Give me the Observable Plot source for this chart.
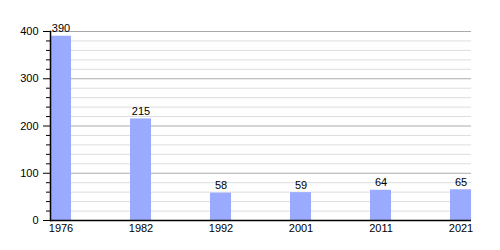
<!DOCTYPE html>
<html>
<head>
<meta charset="utf-8">
<script src="https://cdn.jsdelivr.net/npm/d3@7"></script>
<script src="https://cdn.jsdelivr.net/npm/@observablehq/plot@0.6"></script>
<style>
  html, body { margin: 0; padding: 0; background: #fff; }
  #chart svg { display: block; }
</style>
</head>
<body>
<div id="chart"></div>
<script>
const years = ["1976", "1982", "1992", "2001", "2011", "2021"];
const population = [390, 215, 58, 59, 64, 65];
const majorTicks = [0, 100, 200, 300, 400];
const minorTicks = d3.range(0, 401, 20).filter(v => v % 100 !== 0);

const data = years.map((year, i) => ({year, value: population[i]}));

const chart = Plot.plot({
  width: 500,
  height: 250,
  marginLeft: 50,
  marginRight: 29,
  marginTop: 31,
  marginBottom: 30,
  style: {fontFamily: "'Liberation Sans', Arial, sans-serif", fontSize: "11px", color: "#000", background: "#fff"},
  x: {type: "band", domain: years, paddingInner: 0.7375, paddingOuter: 0, align: 0, label: null},
  y: {domain: [0, 400], label: null},
  marks: [
    Plot.ruleY(minorTicks, {stroke: "#dddddd", strokeWidth: 1}),
    Plot.ruleY(majorTicks.filter(v => v > 0), {stroke: "#aaaaaa", strokeWidth: 1}),
    Plot.barY(data, {x: "year", y: "value", fill: "#99aaff"}),
    Plot.text(data, {x: "year", y: "value", text: d => String(d.value), lineAnchor: "bottom", dy: -4, fill: "#000"}),
    Plot.axisY(majorTicks, {tickSize: 7, tickPadding: 5, label: null, stroke: "#000"}),
    Plot.axisY(minorTicks, {tickSize: 4, text: null, label: null, stroke: "#000"}),
    Plot.axisX({tickSize: 0, tickPadding: 4, label: null}),
    Plot.ruleY([0], {stroke: "#000", strokeWidth: 1.5}),
    Plot.frame({anchor: "left", stroke: "#000", strokeWidth: 1.5})
  ]
});
document.getElementById("chart").appendChild(chart);
</script>
</body>
</html>
